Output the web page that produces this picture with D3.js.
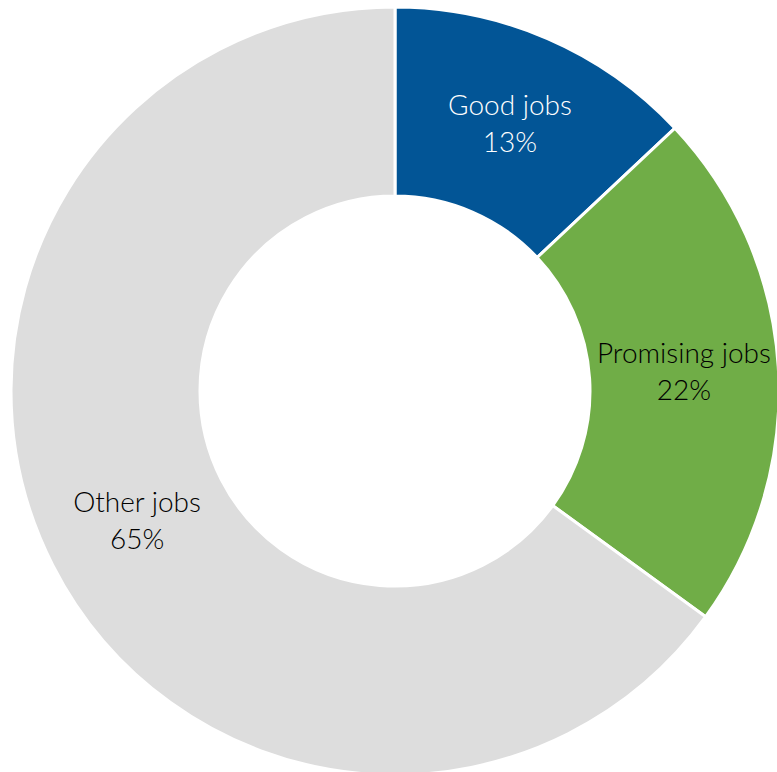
<!DOCTYPE html>
<html>
<head>
<meta charset="utf-8">
<script src="https://cdn.jsdelivr.net/npm/d3@7/dist/d3.min.js"></script>
<style>
  html, body { margin: 0; padding: 0; background: #fff; }
  svg { display: block; }
  text { font-family: Lato, "Open Sans", sans-serif; font-weight: 300; }
</style>
</head>
<body>
<svg id="chart" width="777" height="772"></svg>
<script>
// Share of jobs by category (percent)
const categories = ["Good jobs", "Promising jobs", "Other jobs"];
const shares = [13, 22, 65];
const colors = ["#025596", "#70AD47", "#DDDDDD"];
const labelColors = ["#ffffff", "#000000", "#000000"];

const width = 777, height = 772;
const cx = 395, cy = 391;
const outerR = 384, innerR = 195;

const svg = d3.select("#chart");
const g = svg.append("g").attr("transform", `translate(${cx},${cy})`);

const data = categories.map((c, i) => ({ name: c, value: shares[i], color: colors[i], text: labelColors[i] }));

const pie = d3.pie().value(d => d.value).sort(null);
const arc = d3.arc().innerRadius(innerR).outerRadius(outerR);

const arcs = pie(data);

g.selectAll("path.slice")
  .data(arcs)
  .join("path")
  .attr("class", "slice")
  .attr("d", arc)
  .attr("fill", d => d.data.color)
  .attr("stroke", "#ffffff")
  .attr("stroke-width", 3);

const labels = g.selectAll("g.label")
  .data(arcs)
  .join("g")
  .attr("class", "label")
  .attr("transform", d => `translate(${arc.centroid(d)})`);

labels.append("text")
  .attr("text-anchor", "middle")
  .attr("y", -10)
  .attr("font-size", 28)
  .attr("fill", d => d.data.text)
  .text(d => d.data.name);

labels.append("text")
  .attr("text-anchor", "middle")
  .attr("y", 27)
  .attr("font-size", 28)
  .attr("fill", d => d.data.text)
  .text(d => d.data.value + "%");
</script>
</body>
</html>
